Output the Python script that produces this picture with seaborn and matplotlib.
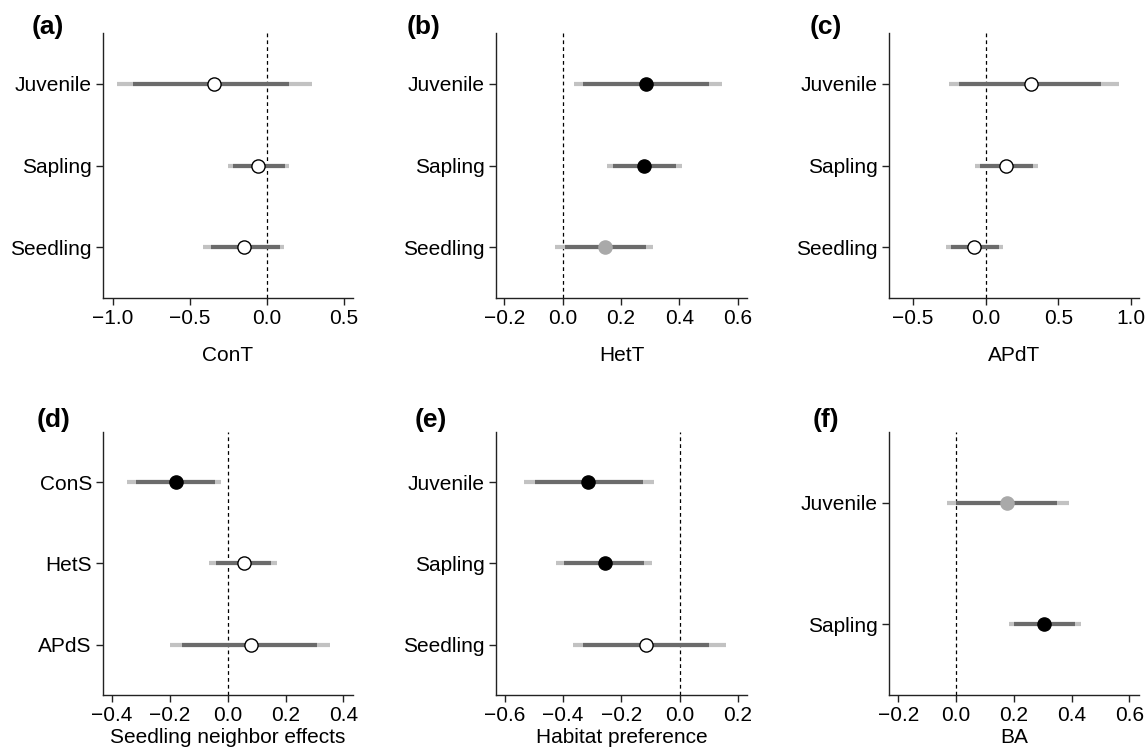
import numpy as np
import pandas as pd
import matplotlib
matplotlib.use("Agg")
import matplotlib.pyplot as plt
import seaborn as sns

sns.set_theme(style="ticks")
plt.rcParams["font.family"] = ["Liberation Sans", "DejaVu Sans"]
plt.rcParams.update({
    "text.color": "black",
    "axes.labelcolor": "black",
    "xtick.color": "black",
    "ytick.color": "black",
    "xtick.labelcolor": "black",
    "ytick.labelcolor": "black",
})

# ---- data: estimate, inner interval (lo/hi) and outer interval (lo/hi) ----
stages = ["Juvenile", "Sapling", "Seedling"]

cont_est = [-0.344, -0.058, -0.149]
cont_in_lo = [-0.870, -0.221, -0.364]
cont_in_hi = [0.141, 0.115, 0.082]
cont_out_lo = [-0.974, -0.255, -0.418]
cont_out_hi = [0.292, 0.141, 0.113]
cont_sig = ["ns", "ns", "ns"]

hett_est = [0.285, 0.277, 0.145]
hett_in_lo = [0.070, 0.171, 0.009]
hett_in_hi = [0.500, 0.389, 0.286]
hett_out_lo = [0.038, 0.153, -0.025]
hett_out_hi = [0.546, 0.408, 0.311]
hett_sig = ["sig", "sig", "marg"]

apdt_est = [0.310, 0.142, -0.078]
apdt_in_lo = [-0.183, -0.037, -0.236]
apdt_in_hi = [0.796, 0.326, 0.092]
apdt_out_lo = [-0.255, -0.071, -0.271]
apdt_out_hi = [0.917, 0.362, 0.119]
apdt_sig = ["ns", "ns", "ns"]

neigh_terms = ["ConS", "HetS", "APdS"]
neigh_est = [-0.179, 0.056, 0.080]
neigh_in_lo = [-0.316, -0.041, -0.157]
neigh_in_hi = [-0.045, 0.151, 0.307]
neigh_out_lo = [-0.347, -0.066, -0.199]
neigh_out_hi = [-0.022, 0.171, 0.353]
neigh_sig = ["sig", "ns", "ns"]

hab_est = [-0.314, -0.256, -0.115]
hab_in_lo = [-0.498, -0.397, -0.333]
hab_in_hi = [-0.124, -0.121, 0.100]
hab_out_lo = [-0.536, -0.425, -0.366]
hab_out_hi = [-0.087, -0.095, 0.159]
hab_sig = ["sig", "sig", "ns"]

ba_stages = ["Juvenile", "Sapling"]
ba_est = [0.178, 0.305]
ba_in_lo = [0.000, 0.201]
ba_in_hi = [0.349, 0.410]
ba_out_lo = [-0.030, 0.182]
ba_out_hi = [0.390, 0.431]
ba_sig = ["marg", "sig"]

LIGHT = "#c2c2c2"
DARK = "#6b6b6b"
FACE = {"ns": "white", "sig": "black", "marg": "#a9a9a9"}
EDGE = {"ns": "black", "sig": "black", "marg": "#a9a9a9"}

W, H = 1148, 750
fig = plt.figure(figsize=(W / 100, H / 100), dpi=100)


def make_axes(left, top, right, bottom):
    return fig.add_axes([left / W, 1 - bottom / H, (right - left) / W, (bottom - top) / H])


panels = [
    dict(tag="(a)", labels=stages, est=cont_est, il=cont_in_lo, ih=cont_in_hi,
         ol=cont_out_lo, oh=cont_out_hi, sig=cont_sig, xlabel="ConT",
         xlim=(-1.065, 0.558), ticks=[-1.0, -0.5, 0.0, 0.5],
         box=(103, 33, 353, 298), tagpos=(32, 27), labelpad=13),
    dict(tag="(b)", labels=stages, est=hett_est, il=hett_in_lo, ih=hett_in_hi,
         ol=hett_out_lo, oh=hett_out_hi, sig=hett_sig, xlabel="HetT",
         xlim=(-0.229, 0.632), ticks=[-0.2, 0.0, 0.2, 0.4, 0.6],
         box=(496, 33, 747, 298), tagpos=(407, 27), labelpad=13),
    dict(tag="(c)", labels=stages, est=apdt_est, il=apdt_in_lo, ih=apdt_in_hi,
         ol=apdt_out_lo, oh=apdt_out_hi, sig=apdt_sig, xlabel="APdT",
         xlim=(-0.665, 1.055), ticks=[-0.5, 0.0, 0.5, 1.0],
         box=(889, 33, 1139, 298), tagpos=(810, 27), labelpad=13),
    dict(tag="(d)", labels=neigh_terms, est=neigh_est, il=neigh_in_lo, ih=neigh_in_hi,
         ol=neigh_out_lo, oh=neigh_out_hi, sig=neigh_sig,
         xlabel="Seedling neighbor effects",
         xlim=(-0.431, 0.433), ticks=[-0.4, -0.2, 0.0, 0.2, 0.4],
         box=(103, 432, 353, 695), tagpos=(37, 420), labelpad=2),
    dict(tag="(e)", labels=stages, est=hab_est, il=hab_in_lo, ih=hab_in_hi,
         ol=hab_out_lo, oh=hab_out_hi, sig=hab_sig, xlabel="Habitat preference",
         xlim=(-0.631, 0.232), ticks=[-0.6, -0.4, -0.2, 0.0, 0.2],
         box=(496, 432, 747, 695), tagpos=(415, 420), labelpad=2),
    dict(tag="(f)", labels=ba_stages, est=ba_est, il=ba_in_lo, ih=ba_in_hi,
         ol=ba_out_lo, oh=ba_out_hi, sig=ba_sig, xlabel="BA",
         xlim=(-0.232, 0.633), ticks=[-0.2, 0.0, 0.2, 0.4, 0.6],
         box=(889, 432, 1139, 695), tagpos=(813, 420), labelpad=2),
]

for p in panels:
    ax = make_axes(*p["box"])
    n = len(p["labels"])
    df = pd.DataFrame({
        "label": p["labels"], "pos": np.arange(n), "est": p["est"],
        "in_lo": p["il"], "in_hi": p["ih"], "out_lo": p["ol"], "out_hi": p["oh"],
        "sig": p["sig"],
    })

    ax.axvline(0, color="black", lw=0.9, ls=(0, (3, 2.5)), zorder=1)
    ax.hlines(df["pos"], df["out_lo"], df["out_hi"], color=LIGHT, lw=3.0,
              zorder=2, capstyle="butt")
    ax.hlines(df["pos"], df["in_lo"], df["in_hi"], color=DARK, lw=3.0,
              zorder=3, capstyle="butt")
    for key in ["ns", "sig", "marg"]:
        sub = df[df["sig"] == key]
        if len(sub):
            sns.scatterplot(data=sub, x="est", y="pos", ax=ax, s=90,
                            color=FACE[key], edgecolor=EDGE[key], linewidth=1.0,
                            zorder=4, legend=False)

    pad = 0.62 if n == 3 else 0.58
    ax.set_ylim(n - 1 + pad, -pad)
    ax.set_yticks(df["pos"])
    ax.set_yticklabels(df["label"])
    ax.set_xlim(*p["xlim"])
    ax.set_xticks(p["ticks"])
    ax.set_ylabel("")
    ax.set_xlabel(p["xlabel"], fontsize=15, labelpad=p["labelpad"], color="black")
    ax.tick_params(axis="both", labelsize=15, length=5, width=1, color="#222222",
                   labelcolor="black", pad=3)
    sns.despine(ax=ax)
    for side in ["left", "bottom"]:
        ax.spines[side].set_color("#222222")
        ax.spines[side].set_linewidth(1.0)

    fig.text(p["tagpos"][0] / W, 1 - p["tagpos"][1] / H, p["tag"],
             fontsize=19, fontweight="bold", ha="left", va="center", color="black")

fig.savefig("out.png", dpi=100, facecolor="white")
